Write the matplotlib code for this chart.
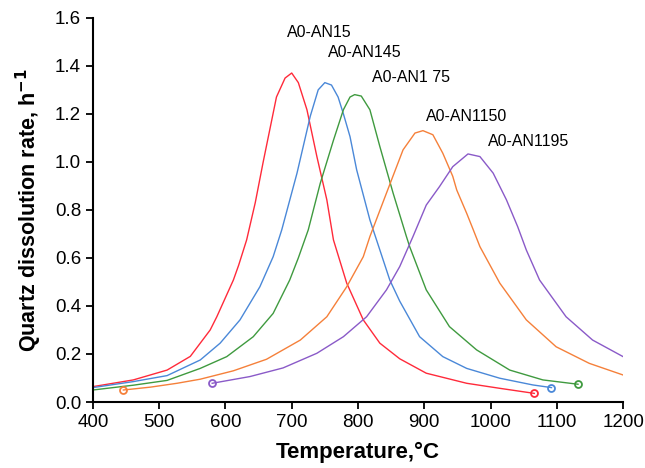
import matplotlib.pyplot as plt

plt.rcParams['font.family'] = ['Liberation Sans', 'DejaVu Sans']

# temperature (C) and dissolution rate (1/h)
t_15 = [400, 461, 512, 547, 562, 577, 587, 612, 620, 632, 645, 657, 677, 690, 700, 710, 723, 738, 753, 763, 783, 808, 833, 863, 903, 964, 1014, 1066]
r_15 = [0.064, 0.092, 0.133, 0.19, 0.245, 0.30, 0.355, 0.508, 0.57, 0.675, 0.83, 1.0, 1.27, 1.349, 1.37, 1.33, 1.217, 1.022, 0.842, 0.675, 0.495, 0.342, 0.245, 0.18, 0.12, 0.078, 0.057, 0.036]

t_145 = [400, 461, 512, 562, 592, 622, 652, 672, 685, 708, 728, 740, 750, 760, 770, 778, 788, 798, 818, 828, 848, 863, 893, 928, 964, 1014, 1064, 1092]
r_145 = [0.06, 0.085, 0.11, 0.175, 0.245, 0.342, 0.48, 0.605, 0.717, 0.953, 1.19, 1.30, 1.33, 1.32, 1.27, 1.2, 1.105, 0.967, 0.758, 0.675, 0.508, 0.42, 0.272, 0.189, 0.14, 0.099, 0.071, 0.06]

t_175 = [400, 461, 512, 562, 602, 642, 672, 697, 710, 725, 743, 763, 778, 788, 795, 805, 818, 833, 853, 873, 878, 903, 938, 979, 1029, 1079, 1132]
r_175 = [0.05, 0.07, 0.09, 0.14, 0.189, 0.272, 0.369, 0.508, 0.6, 0.717, 0.91, 1.09, 1.217, 1.27, 1.28, 1.274, 1.217, 1.064, 0.87, 0.69, 0.647, 0.467, 0.314, 0.217, 0.133, 0.092, 0.074]

t_1150 = [446, 487, 527, 562, 612, 662, 713, 753, 783, 808, 818, 843, 868, 886, 898, 913, 928, 943, 949, 964, 974, 984, 1014, 1054, 1099, 1149, 1200]
r_1150 = [0.05, 0.062, 0.078, 0.095, 0.13, 0.178, 0.258, 0.355, 0.48, 0.605, 0.689, 0.87, 1.05, 1.12, 1.13, 1.113, 1.036, 0.94, 0.883, 0.786, 0.717, 0.647, 0.495, 0.342, 0.23, 0.161, 0.1125]

t_1195 = [580, 637, 687, 738, 778, 813, 843, 863, 883, 903, 923, 943, 966, 984, 1004, 1024, 1041, 1054, 1074, 1114, 1154, 1200]
r_1195 = [0.078, 0.106, 0.142, 0.203, 0.272, 0.355, 0.467, 0.564, 0.689, 0.82, 0.897, 0.98, 1.033, 1.022, 0.953, 0.842, 0.73, 0.633, 0.508, 0.355, 0.258, 0.189]

labels = ['A0-AN15', 'A0-AN145', 'A0-AN1 75', 'A0-AN1150', 'A0-AN1195']
label_x = [742, 811, 880, 964, 1058]
label_y = [1.54, 1.454, 1.35, 1.19, 1.083]

fig = plt.figure(figsize=(6.45, 4.68), dpi=100)
ax = fig.add_axes([0.144, 0.141, 0.822, 0.821])

curves = [
    (t_15, r_15, '#ff2a3a', -1),
    (t_145, r_145, '#4a88d8', -1),
    (t_175, r_175, '#3f9a3f', -1),
    (t_1150, r_1150, '#f5803a', 0),
    (t_1195, r_1195, '#8a5ac8', 0),
]
for t, r, c, m in curves:
    ax.plot(t, r, color=c, lw=1.0)
    ax.plot(t[m], r[m], 'o', mfc='none', mec=c, ms=5, mew=1.3)

for lab, x, y in zip(labels, label_x, label_y):
    ax.text(x, y, lab, ha='center', va='center', fontsize=11.5)

ax.set_xlim(400, 1200)
ax.set_ylim(0, 1.6)
ax.set_xticks(range(400, 1201, 100))
ax.set_yticks([i * 0.2 for i in range(9)])
ax.set_yticklabels(['%.1f' % (i * 0.2) for i in range(9)])
ax.spines['top'].set_visible(False)
ax.spines['right'].set_visible(False)
ax.spines['left'].set_linewidth(1.5)
ax.spines['bottom'].set_linewidth(1.5)
ax.tick_params(direction='out', length=5, width=1.3, labelsize=13.5)
ax.set_xlabel('Temperature,°C', fontsize=16, fontweight='bold', labelpad=8)
ax.set_ylabel('Quartz dissolution rate, h$^{\\mathbf{-1}}$', fontsize=15.5, fontweight='bold', labelpad=8)

fig.savefig('out.png', dpi=100)
